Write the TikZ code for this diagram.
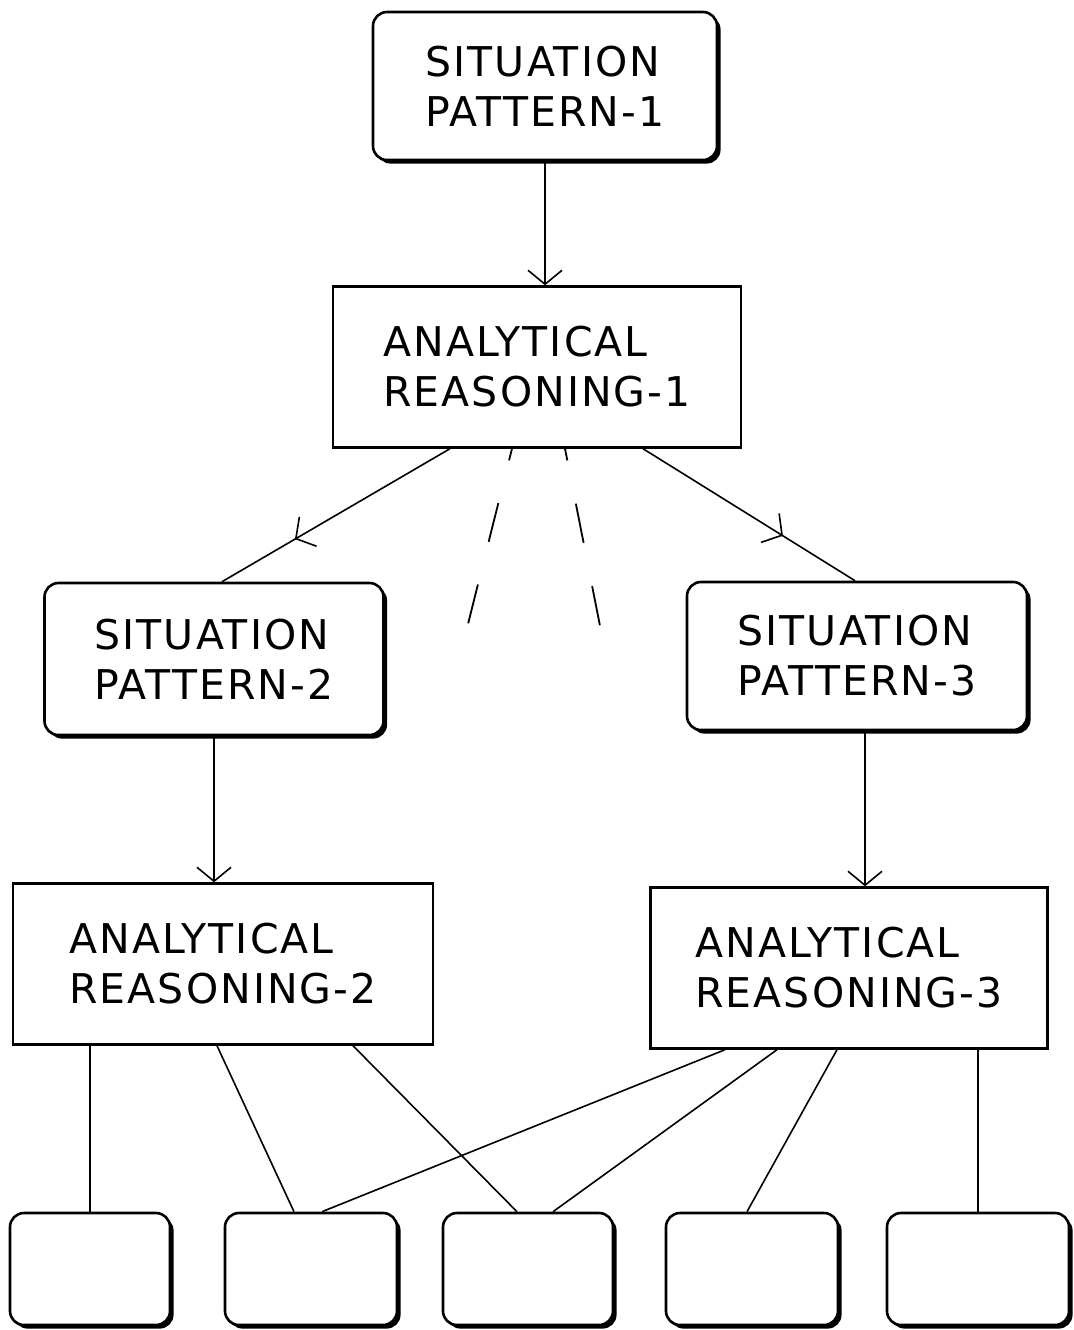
\documentclass[tikz,border=0pt]{standalone}
\usepackage{fontspec}
\setmainfont{DejaVu Sans}[LetterSpace=5]
\usetikzlibrary{arrows.meta,shadows,decorations.markings}

\begin{document}
\begin{tikzpicture}[
  x=0.5pt, y=-0.5pt,
  sit/.style={rectangle, draw, line width=1.3pt, rounded corners=7pt, fill=white, align=left, font=\fontsize{20.5}{25}\selectfont, drop shadow={shadow xshift=1.8pt, shadow yshift=-1.8pt, fill=black, opacity=1}},
  ana/.style={rectangle, draw, line width=1.2pt, fill=white, align=left, font=\fontsize{20.5}{25}\selectfont, minimum height=80.5pt},
  leaf/.style={sit, minimum height=56pt},
  line/.style={-{Straight Barb[length=7pt,width=17pt]}, line width=0.8pt},
  link/.style={line width=0.8pt},
  dashline/.style={line width=0.9pt, dash pattern=on 20pt off 22pt, dash phase=14pt},
  midarrow/.style={line width=0.8pt, postaction={decorate}, decoration={markings, mark=at position #1 with {\arrow{Straight Barb[length=7pt,width=17pt]}}}}
]
\useasboundingbox (0,0) rectangle (1074,1330);

\node[sit, minimum width=172pt, minimum height=74pt] (sp1) at (545,86) {SITUATION\\PATTERN-1};
\node[ana, minimum width=204pt] (ar1) at (537,367) {ANALYTICAL\\REASONING-1};
\node[sit, minimum width=169.5pt, minimum height=76pt] (sp2) at (214,659) {SITUATION\\PATTERN-2};
\node[sit, minimum width=170pt, minimum height=74pt] (sp3) at (857,656) {SITUATION\\PATTERN-3};
\node[ana, minimum width=210pt] (ar2) at (223,964) {ANALYTICAL\\REASONING-2};
\node[ana, minimum width=198.5pt] (ar3) at (849,968) {ANALYTICAL\\REASONING-3};

% bottom row
\node[leaf, minimum width=80pt] (b1) at (90,1269) {};
\node[leaf, minimum width=86pt] (b2) at (311,1269) {};
\node[leaf, minimum width=85pt] (b3) at (528,1269) {};
\node[leaf, minimum width=86pt] (b4) at (752,1269) {};
\node[leaf, minimum width=91pt] (b5) at (978,1269) {};

\coordinate (d1) at (465,636);
\coordinate (d2) at (602,636);

\draw[line] (sp1.south) -- (sp1.south |- ar1.north);
\draw[midarrow=0.68] ([xshift=-43.5pt]ar1.south) -- ([xshift=4pt]sp2.north);
\draw[midarrow=0.66] ([xshift=53pt]ar1.south) -- ([xshift=-1pt]sp3.north);
\draw[dashline] ([xshift=-12.5pt]ar1.south) -- (d1);
\draw[dashline] ([xshift=14pt]ar1.south) -- (d2);
\draw[line] (sp2.south) -- (sp2.south |- ar2.north);
\draw[line] ([xshift=4pt]sp3.south) -- ([xshift=4pt]sp3.south |- ar3.north);

\draw[link] (b1.north |- ar2.south) -- (b1.north);
\draw[link] ([xshift=-3pt]ar2.south) -- ([xshift=-8.5pt]b2.north);
\draw[link] ([xshift=65pt]ar2.south) -- ([xshift=-5.5pt]b3.north);
\draw[link] ([xshift=-62pt]ar3.south) -- ([xshift=5.5pt]b2.north);
\draw[link] ([xshift=-36pt]ar3.south) -- ([xshift=12.5pt]b3.north);
\draw[link] ([xshift=-6pt]ar3.south) -- ([xshift=-2.5pt]b4.north);
\draw[link] (b5.north |- ar3.south) -- (b5.north);
\end{tikzpicture}
\end{document}
